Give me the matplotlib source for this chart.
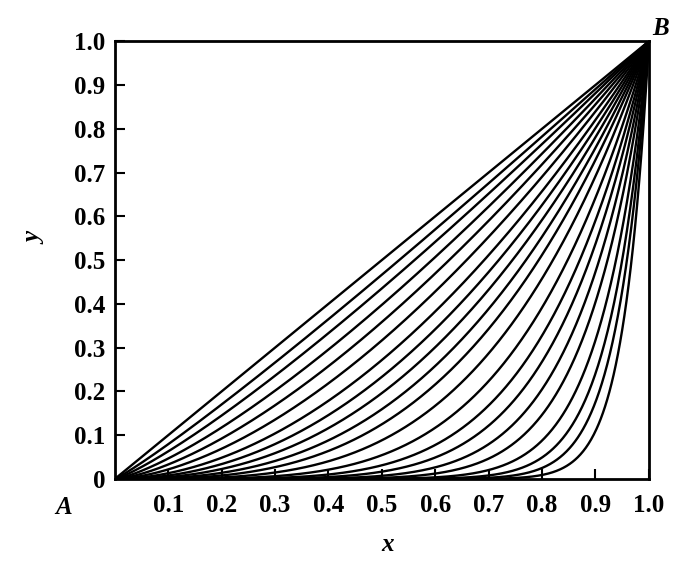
import numpy as np
import matplotlib
matplotlib.use("Agg")
import matplotlib.pyplot as plt

# Exponents of the curve family y = x**n
exponents = [1.0, 1.1, 1.2, 1.33, 1.48, 1.66, 1.88, 2.1, 2.35, 2.65, 3.0,
             3.5, 4.2, 5.0, 5.9, 7.1, 8.6, 10.9, 13.5, 16.5, 21.0]
xtick_vals = [0.1, 0.2, 0.3, 0.4, 0.5, 0.6, 0.7, 0.8, 0.9, 1.0]
xtick_labels = ["0.1", "0.2", "0.3", "0.4", "0.5", "0.6", "0.7", "0.8", "0.9", "1.0"]
ytick_vals = [0, 0.1, 0.2, 0.3, 0.4, 0.5, 0.6, 0.7, 0.8, 0.9, 1.0]
ytick_labels = ["0", "0.1", "0.2", "0.3", "0.4", "0.5", "0.6", "0.7", "0.8", "0.9", "1.0"]

plt.rcParams['font.family'] = ['Liberation Serif', 'DejaVu Serif']

fig = plt.figure(figsize=(7.0, 5.62), dpi=100)
ax = fig.add_axes([0.164, 0.1477, 0.763, 0.779])

x = np.linspace(0, 1, 1000)
for n in exponents:
    ax.plot(x, x ** n, color='black', lw=1.7, solid_capstyle='butt')

ax.set_xlim(0, 1)
ax.set_ylim(0, 1)
ax.set_xticks(xtick_vals)
ax.set_xticklabels(xtick_labels, fontsize=18, fontweight='bold')
ax.set_yticks(ytick_vals)
ax.set_yticklabels(ytick_labels, fontsize=18, fontweight='bold')
ax.tick_params(axis='both', direction='in', length=7, width=1.5)
ax.tick_params(axis='x', pad=11)
ax.tick_params(axis='y', pad=7)
for s in ax.spines.values():
    s.set_linewidth(2.0)

ax.text(-0.15, 0.55, "y", transform=ax.transAxes, fontsize=18, fontstyle='italic',
        fontweight='bold', rotation=90, ha='center', va='center')
ax.text(0.51, -0.15, "x", transform=ax.transAxes, fontsize=18, fontstyle='italic',
        fontweight='bold', ha='center', va='center')
ax.text(-0.095, -0.065, "A", transform=ax.transAxes, fontsize=18, fontstyle='italic',
        fontweight='bold', ha='center', va='center')
ax.text(1.022, 1.03, "B", transform=ax.transAxes, fontsize=18, fontstyle='italic',
        fontweight='bold', ha='center', va='center')

fig.savefig("out.png", dpi=100)
